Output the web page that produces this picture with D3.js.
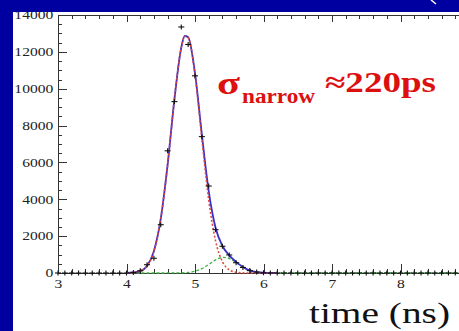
<!DOCTYPE html>
<html lang="en">
  <head>
    <meta charset="utf-8">
    <title>time distribution</title>
    <style>
body {
  margin: 0;
  background: #0000a0;
}
svg {
  display: block;
}
.axis path,
.axis line {
  stroke: #333;
  shape-rendering: crispEdges;
}
.axis text {
  font-family: "Liberation Serif", "Times New Roman", Times, serif;
  font-size: 12px;
  fill: #222;
}
.label {
  font-family: "Liberation Serif", "Times New Roman", Times, serif;
}
    </style>
  </head>
  <body>
    <svg></svg>
    <script src="https://cdn.jsdelivr.net/npm/d3@7"></script>
    <script>

// histogram, 0.1 ns bins
let dataTime = [3.0, 3.1, 3.2, 3.3, 3.4, 3.5, 3.6, 3.7, 3.8, 3.9,
                4.0, 4.1, 4.2, 4.3, 4.4, 4.5, 4.6, 4.7, 4.8, 4.9,
                5.0, 5.1, 5.2, 5.3, 5.4, 5.5, 5.6, 5.7, 5.8, 5.9,
                6.0, 6.1, 6.2, 6.3, 6.4, 6.5, 6.6, 6.7, 6.8, 6.9,
                7.0, 7.1, 7.2, 7.3, 7.4, 7.5, 7.6, 7.7, 7.8, 7.9,
                8.0, 8.1, 8.2, 8.3, 8.4, 8.5, 8.6, 8.7, 8.8];
let dataCounts = [0, 0, 0, 0, 0, 0, 0, 0, 0, 0,
                  0, 30, 120, 450, 800, 2620, 6630, 9300, 13350, 12400,
                  10700, 7400, 4720, 2350, 1450, 980, 560, 300, 130, 50,
                  15, 0, 0, 0, 0, 0, 0, 0, 0, 0,
                  0, 0, 0, 0, 0, 0, 0, 0, 0, 0,
                  0, 0, 0, 0, 0, 0, 0, 0, 0];

// fit curves
let fitTime = [4.0, 4.1, 4.2, 4.3, 4.4, 4.5, 4.6, 4.7, 4.8, 4.85, 4.9,
               5.0, 5.1, 5.2, 5.3, 5.4, 5.5, 5.6, 5.7, 5.8, 5.9,
               6.0, 6.1, 6.2];
let totalFit = [0, 30, 100, 384, 1183, 2933, 5863, 9440, 12240, 12860, 12790,
                10840, 7516, 4437, 2456, 1464, 961, 607, 326, 140, 48,
                13, 0, 0];
let narrowFit = [0, 25, 100, 384, 1183, 2933, 5863, 9438, 12234, 12844, 12775,
                 10746, 7280, 3973, 1746, 618, 176, 40, 7, 0, 0,
                 0, 0, 0];
let wideTime = [4.0, 4.7, 4.8, 4.9, 5.0, 5.1, 5.2, 5.3, 5.4, 5.5,
                5.6, 5.7, 5.8, 5.9, 6.0, 6.1, 8.9];
let wideFit = [0, 2, 7, 29, 94, 236, 464, 710, 846, 785,
               567, 319, 140, 48, 13, 0, 0];

let xMajor = [3, 4, 5, 6, 7, 8];
let yMajor = [0, 2000, 4000, 6000, 8000, 10000, 12000, 14000];

let width = 459,
    height = 331;

let svg = d3.select("svg")
    .attr("width", width)
    .attr("height", height);

// white panel
svg.append("rect")
    .attr("x", 13)
    .attr("y", 11)
    .attr("width", width - 13)
    .attr("height", height - 11)
    .attr("fill", "#fff");

let x = d3.scaleLinear()
    .domain([3, 9])
    .range([58, 469]);

let y = d3.scaleLinear()
    .domain([0, 14000])
    .range([273, 15]);

let stretch = "scale(1.3,1)";

// minor ticks first
svg.append("g")
    .attr("class", "axis")
    .attr("transform", "translate(0," + y(0) + ")")
    .call(d3.axisBottom(x).ticks(30).tickSize(-4).tickFormat(""));
svg.append("g")
    .attr("class", "axis")
    .attr("transform", "translate(0," + y(14000) + ")")
    .call(d3.axisTop(x).ticks(30).tickSize(-4).tickFormat(""));
svg.append("g")
    .attr("class", "axis")
    .attr("transform", "translate(" + x(3) + ",0)")
    .call(d3.axisLeft(y).ticks(28).tickSize(-4).tickFormat(""));

// major ticks and labels
let xAxis = svg.append("g")
    .attr("class", "axis")
    .attr("transform", "translate(0," + y(0) + ")")
    .call(d3.axisBottom(x).tickValues(xMajor).tickSize(-9).tickSizeOuter(0).tickPadding(6).tickFormat(d3.format("d")));
xAxis.selectAll("text").attr("transform", stretch);

svg.append("g")
    .attr("class", "axis")
    .attr("transform", "translate(0," + y(14000) + ")")
    .call(d3.axisTop(x).tickValues(xMajor).tickSize(-7).tickSizeOuter(0).tickFormat(""));

let yAxis = svg.append("g")
    .attr("class", "axis")
    .attr("transform", "translate(" + x(3) + ",0)")
    .call(d3.axisLeft(y).tickValues(yMajor).tickSize(-9).tickSizeOuter(0).tickPadding(3.6).tickFormat(d3.format("d")));
yAxis.selectAll("text").attr("transform", stretch);

// fit curves
function curve(xs, ys) {
  return d3.line()
      .x(function(d, i) { return x(xs[i]); })
      .y(function(d) { return y(d); })
      .curve(d3.curveMonotoneX)(ys);
}

svg.append("path")
    .attr("d", curve(wideTime, wideFit))
    .attr("fill", "none")
    .attr("stroke", "#3cb043")
    .attr("stroke-width", 1.3)
    .attr("stroke-dasharray", "3,2");

svg.append("path")
    .attr("d", curve(fitTime, totalFit))
    .attr("fill", "none")
    .attr("stroke", "#3a2ec8")
    .attr("stroke-width", 1.8);

svg.append("path")
    .attr("d", curve(fitTime, narrowFit))
    .attr("fill", "none")
    .attr("stroke", "#e0483a")
    .attr("stroke-width", 1.6)
    .attr("stroke-dasharray", "2,2");

// data points
let marks = svg.append("g")
    .attr("stroke", "#111")
    .attr("stroke-width", 1.1);

marks.selectAll(".h")
    .data(dataCounts)
  .enter().append("line")
    .attr("x1", function(d, i) { return x(dataTime[i]) - 3; })
    .attr("x2", function(d, i) { return x(dataTime[i]) + 3; })
    .attr("y1", function(d) { return y(d); })
    .attr("y2", function(d) { return y(d); });

marks.selectAll(".v")
    .data(dataCounts)
  .enter().append("line")
    .attr("x1", function(d, i) { return x(dataTime[i]); })
    .attr("x2", function(d, i) { return x(dataTime[i]); })
    .attr("y1", function(d) { return y(d) - 2.5; })
    .attr("y2", function(d) { return y(d) + 2.5; });

// annotation
let red = "#dd1010";
svg.append("text")
    .attr("class", "label")
    .attr("x", 217).attr("y", 94)
    .attr("font-size", 31).attr("font-weight", "bold")
    .attr("fill", red)
    .attr("textLength", 23).attr("lengthAdjust", "spacingAndGlyphs")
    .text("σ");
svg.append("text")
    .attr("class", "label")
    .attr("x", 242).attr("y", 103)
    .attr("font-size", 21).attr("font-weight", "bold")
    .attr("fill", red)
    .attr("textLength", 73).attr("lengthAdjust", "spacingAndGlyphs")
    .text("narrow");
svg.append("text")
    .attr("class", "label")
    .attr("x", 325).attr("y", 92)
    .attr("font-size", 29).attr("font-weight", "bold")
    .attr("fill", red)
    .attr("textLength", 111).attr("lengthAdjust", "spacingAndGlyphs")
    .text("≈220ps");

svg.append("text")
    .attr("class", "label")
    .attr("x", 309).attr("y", 323)
    .attr("font-size", 30)
    .attr("fill", "#111")
    .attr("textLength", 141).attr("lengthAdjust", "spacingAndGlyphs")
    .text("time (ns)");

// blue frame over the cut edges
svg.append("rect")
    .attr("x", 0).attr("y", 0)
    .attr("width", width).attr("height", 12)
    .attr("fill", "#0000a0");
svg.append("rect")
    .attr("x", 0).attr("y", 0)
    .attr("width", 13).attr("height", height)
    .attr("fill", "#0000a0");
svg.append("line")
    .attr("x1", 431).attr("y1", 0)
    .attr("x2", 436).attr("y2", 4)
    .attr("stroke", "#fff")
    .attr("stroke-width", 1.5);

    </script>
  </body>
</html>
